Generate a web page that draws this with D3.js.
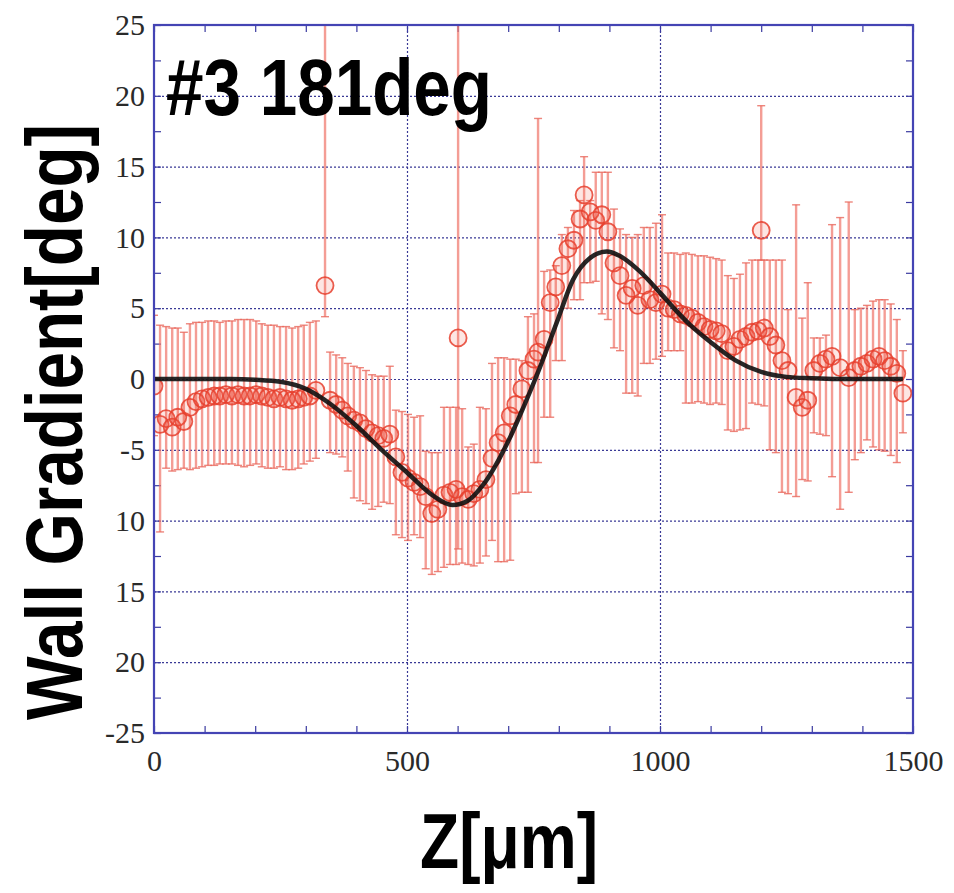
<!DOCTYPE html>
<html>
<head>
<meta charset="utf-8">
<script src="https://cdnjs.cloudflare.com/ajax/libs/d3/7.8.5/d3.min.js"></script>
<style>
  body { margin: 0; background: #fff; }
  svg { display: block; }
  .grid line { stroke: #3a3a96; stroke-width: 1.2; stroke-dasharray: 2,2; }
  .grid path { display: none; }
  .minor path { display: none; }
  .minor line { stroke: #3a3aa0; stroke-width: 1.2; }
  .lab path, .lab line { display: none; }
  .lab text { font-family: "Liberation Serif", "DejaVu Serif", serif; font-size: 30px; fill: #2a2a2a; }
</style>
</head>
<body>
<div id="chart"></div>
<script>
// data: z position [um], wall gradient [deg], error bar low/high
var zPos = [0, 12, 24, 36, 47, 59, 71, 83, 95, 107, 119, 130, 142, 154, 166, 178, 190, 202, 213, 225,
  237, 249, 261, 273, 285, 296, 308, 320, 338, 348, 360, 372, 383, 395, 407, 419, 431, 443, 454, 466,
  478, 490, 502, 514, 526, 537, 549, 561, 573, 585, 597, 601, 609, 621, 632, 644, 656, 668, 680, 692,
  704, 715, 727, 739, 751, 759, 771, 783, 794, 806, 818, 830, 842, 850, 862, 873, 885, 897, 909, 921,
  933, 945, 956, 968, 980, 992, 1004, 1016, 1028, 1040, 1051, 1063, 1075, 1087, 1099, 1111, 1122, 1134, 1146, 1158,
  1170, 1182, 1194, 1200, 1206, 1217, 1229, 1241, 1253, 1269, 1281, 1292, 1304, 1316, 1328, 1340, 1356, 1373, 1385, 1397,
  1409, 1421, 1433, 1444, 1456, 1468, 1480];
var gradVal = [-0.5, -3.2, -2.8, -3.4, -2.7, -3.0, -2.0, -1.6, -1.4, -1.3, -1.2, -1.2, -1.1, -1.2, -1.1, -1.2, -1.2, -1.1, -1.2, -1.3,
  -1.4, -1.3, -1.4, -1.5, -1.4, -1.3, -1.2, -0.8, 6.6, -1.5, -1.8, -2.2, -2.6, -2.9, -3.1, -3.5, -3.8, -4.0, -4.2, -3.9,
  -5.5, -6.6, -7.0, -7.3, -7.6, -8.3, -9.5, -9.2, -8.2, -8.0, -7.8, 2.9, -8.3, -8.5, -8.1, -7.8, -7.1, -5.6, -4.5, -3.8,
  -2.6, -1.8, -0.7, 0.6, 1.4, 1.9, 2.8, 5.4, 6.5, 8.0, 9.2, 9.8, 11.3, 13.0, 11.8, 11.2, 11.6, 10.4, 8.2, 7.3,
  5.9, 6.4, 5.2, 6.6, 5.6, 5.4, 6.0, 5.0, 4.9, 4.6, 4.5, 4.3, 4.0, 3.7, 3.5, 3.4, 3.2, 2.0, 2.3, 2.8,
  3.0, 3.3, 3.4, 10.5, 3.6, 3.0, 2.4, 1.3, 0.6, -1.3, -2.0, -1.5, 0.6, 1.1, 1.4, 1.6, 0.8, 0.1, 0.6, 0.9,
  1.1, 1.4, 1.6, 1.3, 0.9, 0.4, -1.0];
var errLow = [-4.0, -10.8, -6.3, -6.5, -6.4, -6.3, -6.4, -6.3, -6.2, -6.1, -6.1, -6.0, -6.0, -6.0, -6.1, -6.2, -6.1, -6.0, -6.2, -6.3,
  -6.3, -6.2, -6.4, -6.4, -6.3, -6.0, -5.8, -5.6, 4.4, -5.2, -5.3, -5.5, -6.5, -8.4, -8.6, -8.8, -9.2, -9.0, -8.7, -8.8,
  -11.0, -11.2, -11.4, -11.0, -11.2, -13.4, -13.8, -13.6, -13.3, -13.1, -13.1, -12.0, -13.0, -13.1, -13.2, -13.0, -12.5, -11.4, -12.9, -12.9,
  -12.8, -8.1, -8.0, -8.0, -5.9, -5.9, -2.7, -2.7, 1.3, 1.3, 5.0, 5.6, 5.6, 6.8, 6.8, 6.9, 4.6, 4.2, 2.2, 2.0,
  -1.0, -1.0, -1.2, 1.1, 1.1, 1.4, 1.6, 2.0, 2.0, 2.0, -1.7, -1.7, -1.6, -1.7, -1.8, -1.7, -1.8, -3.6, -3.7, -3.6,
  -3.5, -1.7, -1.8, 8.4, -1.9, -5.0, -5.2, -8.0, -8.1, -8.3, -7.1, -7.2, -3.8, -3.9, -4.0, -6.9, -9.2, -8.0, -5.7, -5.2,
  -4.3, -4.8, -5.0, -5.1, -5.4, -5.9, -3.8];
var errHigh = [4.5, 3.8, 3.7, 3.6, 3.6, 3.3, 3.9, 4.0, 4.0, 4.1, 4.1, 4.0, 4.1, 4.1, 4.2, 4.2, 4.2, 4.1, 3.9, 3.8,
  3.8, 3.7, 3.7, 3.6, 3.7, 3.8, 4.0, 4.1, 27, 1.9, 1.7, 1.5, 1.1, 0.9, 0.8, 0.6, 0.3, 0.2, 0.2, 0.9,
  -2.2, -2.3, -2.5, -2.7, -2.6, -5.1, -5.2, -5.2, -2.0, -2.0, -2.0, 27, -2.1, -4.8, -4.6, -2.0, -2.1, 1.1, 1.5, 1.5,
  1.4, 1.4, 1.3, 4.4, 4.6, 18.4, 7.6, 7.7, 8.0, 10.2, 10.7, 11.9, 12.6, 15.7, 12.6, 14.6, 14.6, 14.6, 12.0, 10.6,
  10.2, 10.0, 10.2, 10.7, 10.7, 11.0, 11.6, 8.9, 8.9, 8.8, 8.9, 8.8, 8.7, 8.7, 8.6, 8.5, 8.4, 7.3, 7.1, 7.4,
  8.2, 8.4, 8.4, 19.3, 8.4, 8.4, 8.4, 8.4, 4.9, 12.3, 4.3, 6.8, 2.9, 2.9, 3.1, 10.9, 11.4, 12.5, 4.9, 5.0,
  5.2, 5.5, 5.6, 5.6, 5.3, 4.2, 2.0];

// fitted curve
var fitZ = [0, 50, 100, 150, 200, 250, 300, 350, 400, 450, 500, 550, 590, 620, 650, 700, 730, 763, 796, 828,
  860, 895, 920, 960, 1000, 1030, 1060, 1100, 1150, 1200, 1250, 1300, 1350, 1400, 1480];
var fitVal = [0, 0, 0, 0, -0.05, -0.2, -0.7, -1.8, -3.3, -5.0, -6.6, -8.2, -8.9, -8.6, -7.5, -4.4, -2.0, 0.85, 4.0, 7.0,
  8.5, 9.0, 8.7, 7.6, 6.1, 4.9, 3.8, 2.6, 1.3, 0.5, 0.15, 0.05, 0, 0, 0];

var xTicks = [0, 500, 1000, 1500];
var yTicks = [25, 20, 15, 10, 5, 0, -5, -10, -15, -20, -25];
var yTickLabels = ["25", "20", "15", "10", "5", "0", "-5", "10", "15", "20", "-25"];

var W = 954, H = 893;
var pLeft = 154, pRight = 913, pTop = 25, pBottom = 733;

var svg = d3.select("#chart").append("svg")
  .attr("width", W)
  .attr("height", H);

var x = d3.scaleLinear().domain([0, 1500]).range([pLeft, pRight]);
var y = d3.scaleLinear().domain([-25, 25]).range([pBottom, pTop]);

svg.append("clipPath").attr("id", "plotclip")
  .append("rect")
  .attr("x", pLeft).attr("y", pTop)
  .attr("width", pRight - pLeft).attr("height", pBottom - pTop);

// grid
svg.append("g")
  .attr("class", "grid")
  .attr("transform", "translate(0," + pBottom + ")")
  .call(d3.axisBottom(x).tickValues([500, 1000]).tickSize(-(pBottom - pTop)).tickFormat(""));
svg.append("g")
  .attr("class", "grid")
  .attr("transform", "translate(" + pLeft + ",0)")
  .call(d3.axisLeft(y).tickValues([20, 15, 10, 5, 0, -5, -10, -15, -20]).tickSize(-(pRight - pLeft)).tickFormat(""));

// minor ticks, inward on all four sides
var xMinor = d3.range(0, 1501, 100);
var yMinor = d3.range(-25, 25.1, 2.5);
svg.append("g").attr("class", "minor")
  .attr("transform", "translate(0," + pBottom + ")")
  .call(d3.axisBottom(x).tickValues(xMinor).tickSize(-7).tickFormat(""));
svg.append("g").attr("class", "minor")
  .attr("transform", "translate(0," + pTop + ")")
  .call(d3.axisTop(x).tickValues(xMinor).tickSize(-7).tickFormat(""));
svg.append("g").attr("class", "minor")
  .attr("transform", "translate(" + pLeft + ",0)")
  .call(d3.axisLeft(y).tickValues(yMinor).tickSize(-7).tickFormat(""));
svg.append("g").attr("class", "minor")
  .attr("transform", "translate(" + pRight + ",0)")
  .call(d3.axisRight(y).tickValues(yMinor).tickSize(-7).tickFormat(""));

// data
var data = zPos.map(function(z, i) {
  return { z: z, v: gradVal[i], lo: errLow[i], hi: errHigh[i] };
});

var plot = svg.append("g").attr("clip-path", "url(#plotclip)");

var bars = plot.append("g")
  .attr("stroke", "#f07468")
  .attr("stroke-opacity", 0.7)
  .attr("stroke-width", 2.4);

bars.selectAll(".ebar")
  .data(data)
  .enter().append("line")
  .attr("class", "ebar")
  .attr("x1", d => x(d.z)).attr("x2", d => x(d.z))
  .attr("y1", d => y(d.lo)).attr("y2", d => y(d.hi));

var caps = plot.append("g")
  .attr("stroke", "#e8685c")
  .attr("stroke-opacity", 0.8)
  .attr("stroke-width", 1.4);

caps.selectAll(".capHi")
  .data(data)
  .enter().append("line")
  .attr("x1", d => x(d.z) - 4).attr("x2", d => x(d.z) + 4)
  .attr("y1", d => y(d.hi)).attr("y2", d => y(d.hi));

caps.selectAll(".capLo")
  .data(data)
  .enter().append("line")
  .attr("x1", d => x(d.z) - 4).attr("x2", d => x(d.z) + 4)
  .attr("y1", d => y(d.lo)).attr("y2", d => y(d.lo));

plot.selectAll(".pt")
  .data(data)
  .enter().append("circle")
  .attr("class", "pt")
  .attr("cx", d => x(d.z))
  .attr("cy", d => y(d.v))
  .attr("r", 8.5)
  .attr("fill", "rgba(240,90,70,0.15)")
  .attr("stroke", "#e6402e")
  .attr("stroke-opacity", 0.85)
  .attr("stroke-width", 1.8);

// fit line
var line = d3.line()
  .x((d, i) => x(fitZ[i]))
  .y(d => y(d))
  .curve(d3.curveMonotoneX);

plot.append("path")
  .datum(fitVal)
  .attr("d", line)
  .attr("fill", "none")
  .attr("stroke", "#111")
  .attr("stroke-width", 4.5)
  .attr("stroke-opacity", 0.9);

// frame
svg.append("rect")
  .attr("x", pLeft).attr("y", pTop)
  .attr("width", pRight - pLeft).attr("height", pBottom - pTop)
  .attr("fill", "none")
  .attr("stroke", "#4444b4")
  .attr("stroke-width", 2.2);

// tick labels
svg.append("g")
  .attr("class", "lab")
  .attr("transform", "translate(0," + (pBottom + 14) + ")")
  .call(d3.axisBottom(x).tickValues(xTicks).tickSize(0).tickFormat(d3.format("d")));
svg.append("g")
  .attr("class", "lab")
  .attr("transform", "translate(" + (pLeft - 6) + ",0)")
  .call(d3.axisLeft(y).tickValues(yTicks).tickSize(0)
    .tickFormat((d, i) => yTickLabels[i]));

// titles
svg.append("text")
  .attr("x", 166)
  .attr("y", 115)
  .attr("textLength", 326)
  .attr("lengthAdjust", "spacingAndGlyphs")
  .style("font-family", "'Liberation Sans', Arial, sans-serif")
  .style("font-weight", "bold")
  .style("font-size", "80px")
  .attr("fill", "#000")
  .text("#3 181deg");

svg.append("text")
  .attr("transform", "translate(82,720) rotate(-90)")
  .attr("textLength", 596)
  .attr("lengthAdjust", "spacingAndGlyphs")
  .style("font-family", "'Liberation Sans', Arial, sans-serif")
  .style("font-weight", "bold")
  .style("font-size", "80px")
  .attr("fill", "#000")
  .text("Wall Gradient[deg]");

svg.append("text")
  .attr("x", 420)
  .attr("y", 868)
  .attr("textLength", 178)
  .attr("lengthAdjust", "spacingAndGlyphs")
  .style("font-family", "'Liberation Sans', Arial, sans-serif")
  .style("font-weight", "bold")
  .style("font-size", "78px")
  .attr("fill", "#000")
  .text("Z[μm]");
</script>
</body>
</html>
